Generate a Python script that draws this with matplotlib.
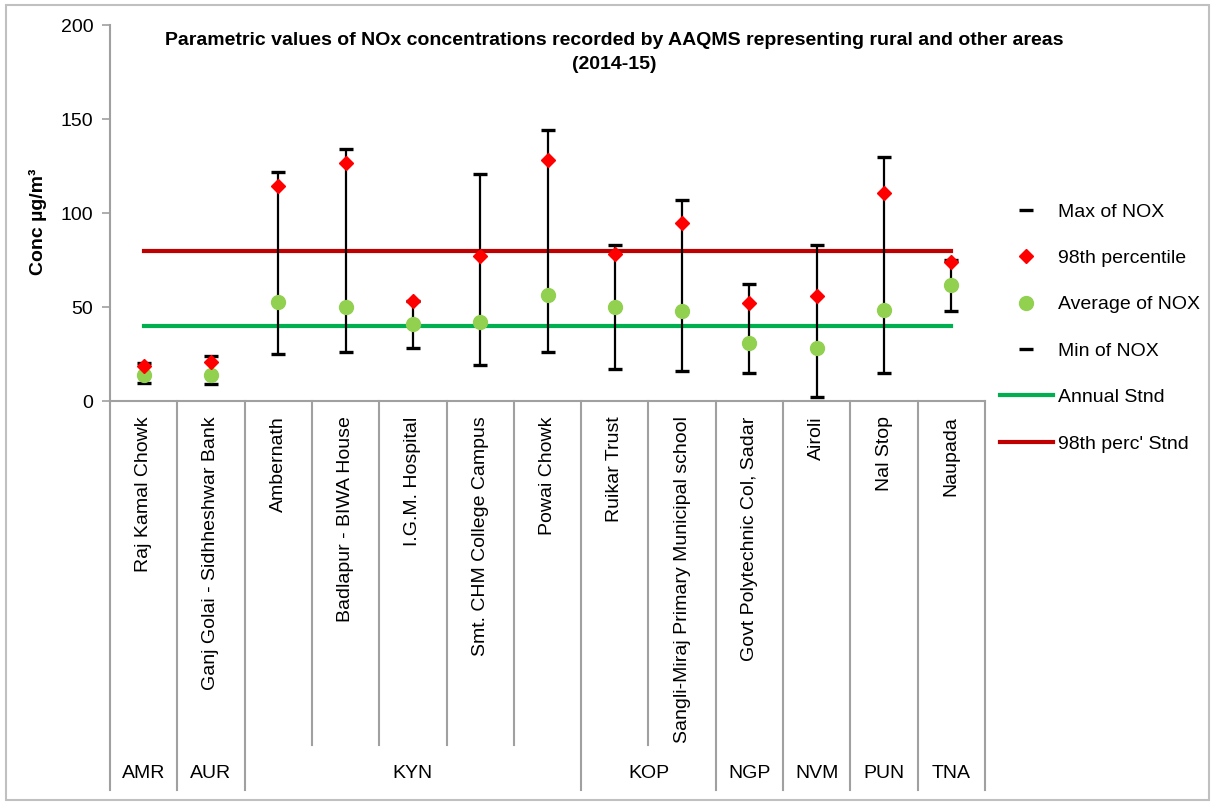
import matplotlib
matplotlib.use("Agg")
import matplotlib.pyplot as plt
import matplotlib.transforms as mtransforms
from matplotlib.patches import Rectangle
from matplotlib.lines import Line2D

plt.rcParams['font.family'] = ['Liberation Sans', 'DejaVu Sans']

sites = ["Raj Kamal Chowk", "Ganj Golai - Sidhheshwar Bank", "Ambernath",
         "Badlapur - BIWA House", "I.G.M. Hospital", "Smt. CHM College Campus",
         "Powai Chowk", "Ruikar Trust", "Sangli-Miraj Primary Municipal school",
         "Govt Polytechnic Col, Sadar", "Airoli", "Nal Stop", "Naupada"]
groups = ["AMR", "AUR", "KYN", "KYN", "KYN", "KYN", "KYN", "KOP", "KOP",
          "NGP", "NVM", "PUN", "TNA"]
max_nox = [20.4, 23.8, 121.6, 133.9, 53.0, 120.6, 144.0, 82.8, 106.9, 62.0, 82.8, 129.6, 75.0]
p98_nox = [18.6, 20.7, 114.5, 126.6, 53.0, 77.0, 128.4, 78.2, 94.8, 52.0, 56.0, 110.5, 73.8]
avg_nox = [13.7, 13.7, 52.5, 50.2, 40.8, 42.2, 56.4, 49.8, 48.0, 30.7, 28.2, 48.4, 61.7]
min_nox = [9.7, 8.9, 24.8, 25.9, 28.0, 19.0, 25.9, 17.0, 16.0, 14.7, 2.1, 14.7, 47.7]
annual_std = 40
p98_std = 80
yticks = [0, 50, 100, 150, 200]

W, H = 1214, 805
fig = plt.figure(figsize=(W / 100, H / 100), dpi=100)
ax_l, ax_r, ax_t, ax_b = 110, 985, 25, 401
ax = fig.add_axes([ax_l / W, 1 - ax_b / H, (ax_r - ax_l) / W, (ax_b - ax_t) / H])

x = list(range(len(sites)))
n = len(sites)

# high-low lines
ax.vlines(x, min_nox, max_nox, color='black', lw=1.6, zorder=2)
ax.plot(x, max_nox, ls='none', marker='_', ms=10, mew=2.4, color='black', zorder=3, label='Max of NOX')
ax.plot(x, p98_nox, ls='none', marker='D', ms=7, color='#ff0000', zorder=5, label='98th percentile')
ax.plot(x, avg_nox, ls='none', marker='o', ms=10, color='#92d050', zorder=4, label='Average of NOX')
ax.plot(x, min_nox, ls='none', marker='_', ms=10, mew=2.4, color='black', zorder=3, label='Min of NOX')
ax.plot([x[0], x[-1]], [annual_std, annual_std], color='#00b050', lw=3, zorder=1, label='Annual Stnd')
ax.plot([x[0], x[-1]], [p98_std, p98_std], color='#c00000', lw=3, zorder=1, label="98th perc' Stnd")

ax.set_xlim(-0.5, n - 0.5)
ax.set_ylim(0, 200)
ax.set_yticks(yticks)
ax.tick_params(axis='y', labelsize=14, length=6, width=1.2, color='#a0a0a0', pad=6)
ax.set_xticks(x)
ax.set_xticklabels(sites, rotation=90, fontsize=14, va='top', ha='center')
ax.tick_params(axis='x', length=0, pad=11)
for s in ['top', 'right']:
    ax.spines[s].set_visible(False)
for s in ['left', 'bottom']:
    ax.spines[s].set_color('#a0a0a0')
    ax.spines[s].set_linewidth(1.5)

# category separators
trans = mtransforms.blended_transform_factory(ax.transData, ax.transAxes)
ah = ax_b - ax_t
y_cat = -(745 - ax_b) / ah
y_grp = -(790 - ax_b) / ah
bounds = [i - 0.5 for i in range(n + 1)]
grp_bounds = set([-0.5, n - 0.5])
for i in range(1, n):
    if groups[i] != groups[i - 1]:
        grp_bounds.add(i - 0.5)
for b in bounds:
    yb = y_grp if b in grp_bounds else y_cat
    ax.add_line(Line2D([b, b], [0, yb], transform=trans, color='#a0a0a0', lw=1.5, clip_on=False))

# group labels
start = 0
for i in range(1, n + 1):
    if i == n or groups[i] != groups[start]:
        cx = (start + i - 1) / 2
        ax.text(cx, -(773 - ax_b) / ah, groups[start], transform=trans, ha='center', va='center', fontsize=14)
        start = i

# title and y label
fig.text(614 / W, 1 - 32 / H, "Parametric values of NOx concentrations recorded by AAQMS representing rural and other areas\n(2014-15)",
         ha='center', va='top', fontsize=14, fontweight='bold', linespacing=1.55)
fig.text(38 / W, 1 - 222 / H, "Conc µg/m³", rotation=90, ha='center', va='center', fontsize=14, fontweight='bold')

# legend
leg = fig.legend(loc='upper left', bbox_to_anchor=(1000 / W, 1 - 203 / H), frameon=False, fontsize=14,
                 handlelength=2.7, handletextpad=0.3, labelspacing=1.48, borderpad=0, borderaxespad=0)

# outer border
fig.patches.append(Rectangle((6 / W, 5 / H), (1209 - 6) / W, (800 - 5) / H, transform=fig.transFigure,
                             fill=False, edgecolor='#c0c0c0', lw=1.5))

fig.savefig('out.png', dpi=100)
